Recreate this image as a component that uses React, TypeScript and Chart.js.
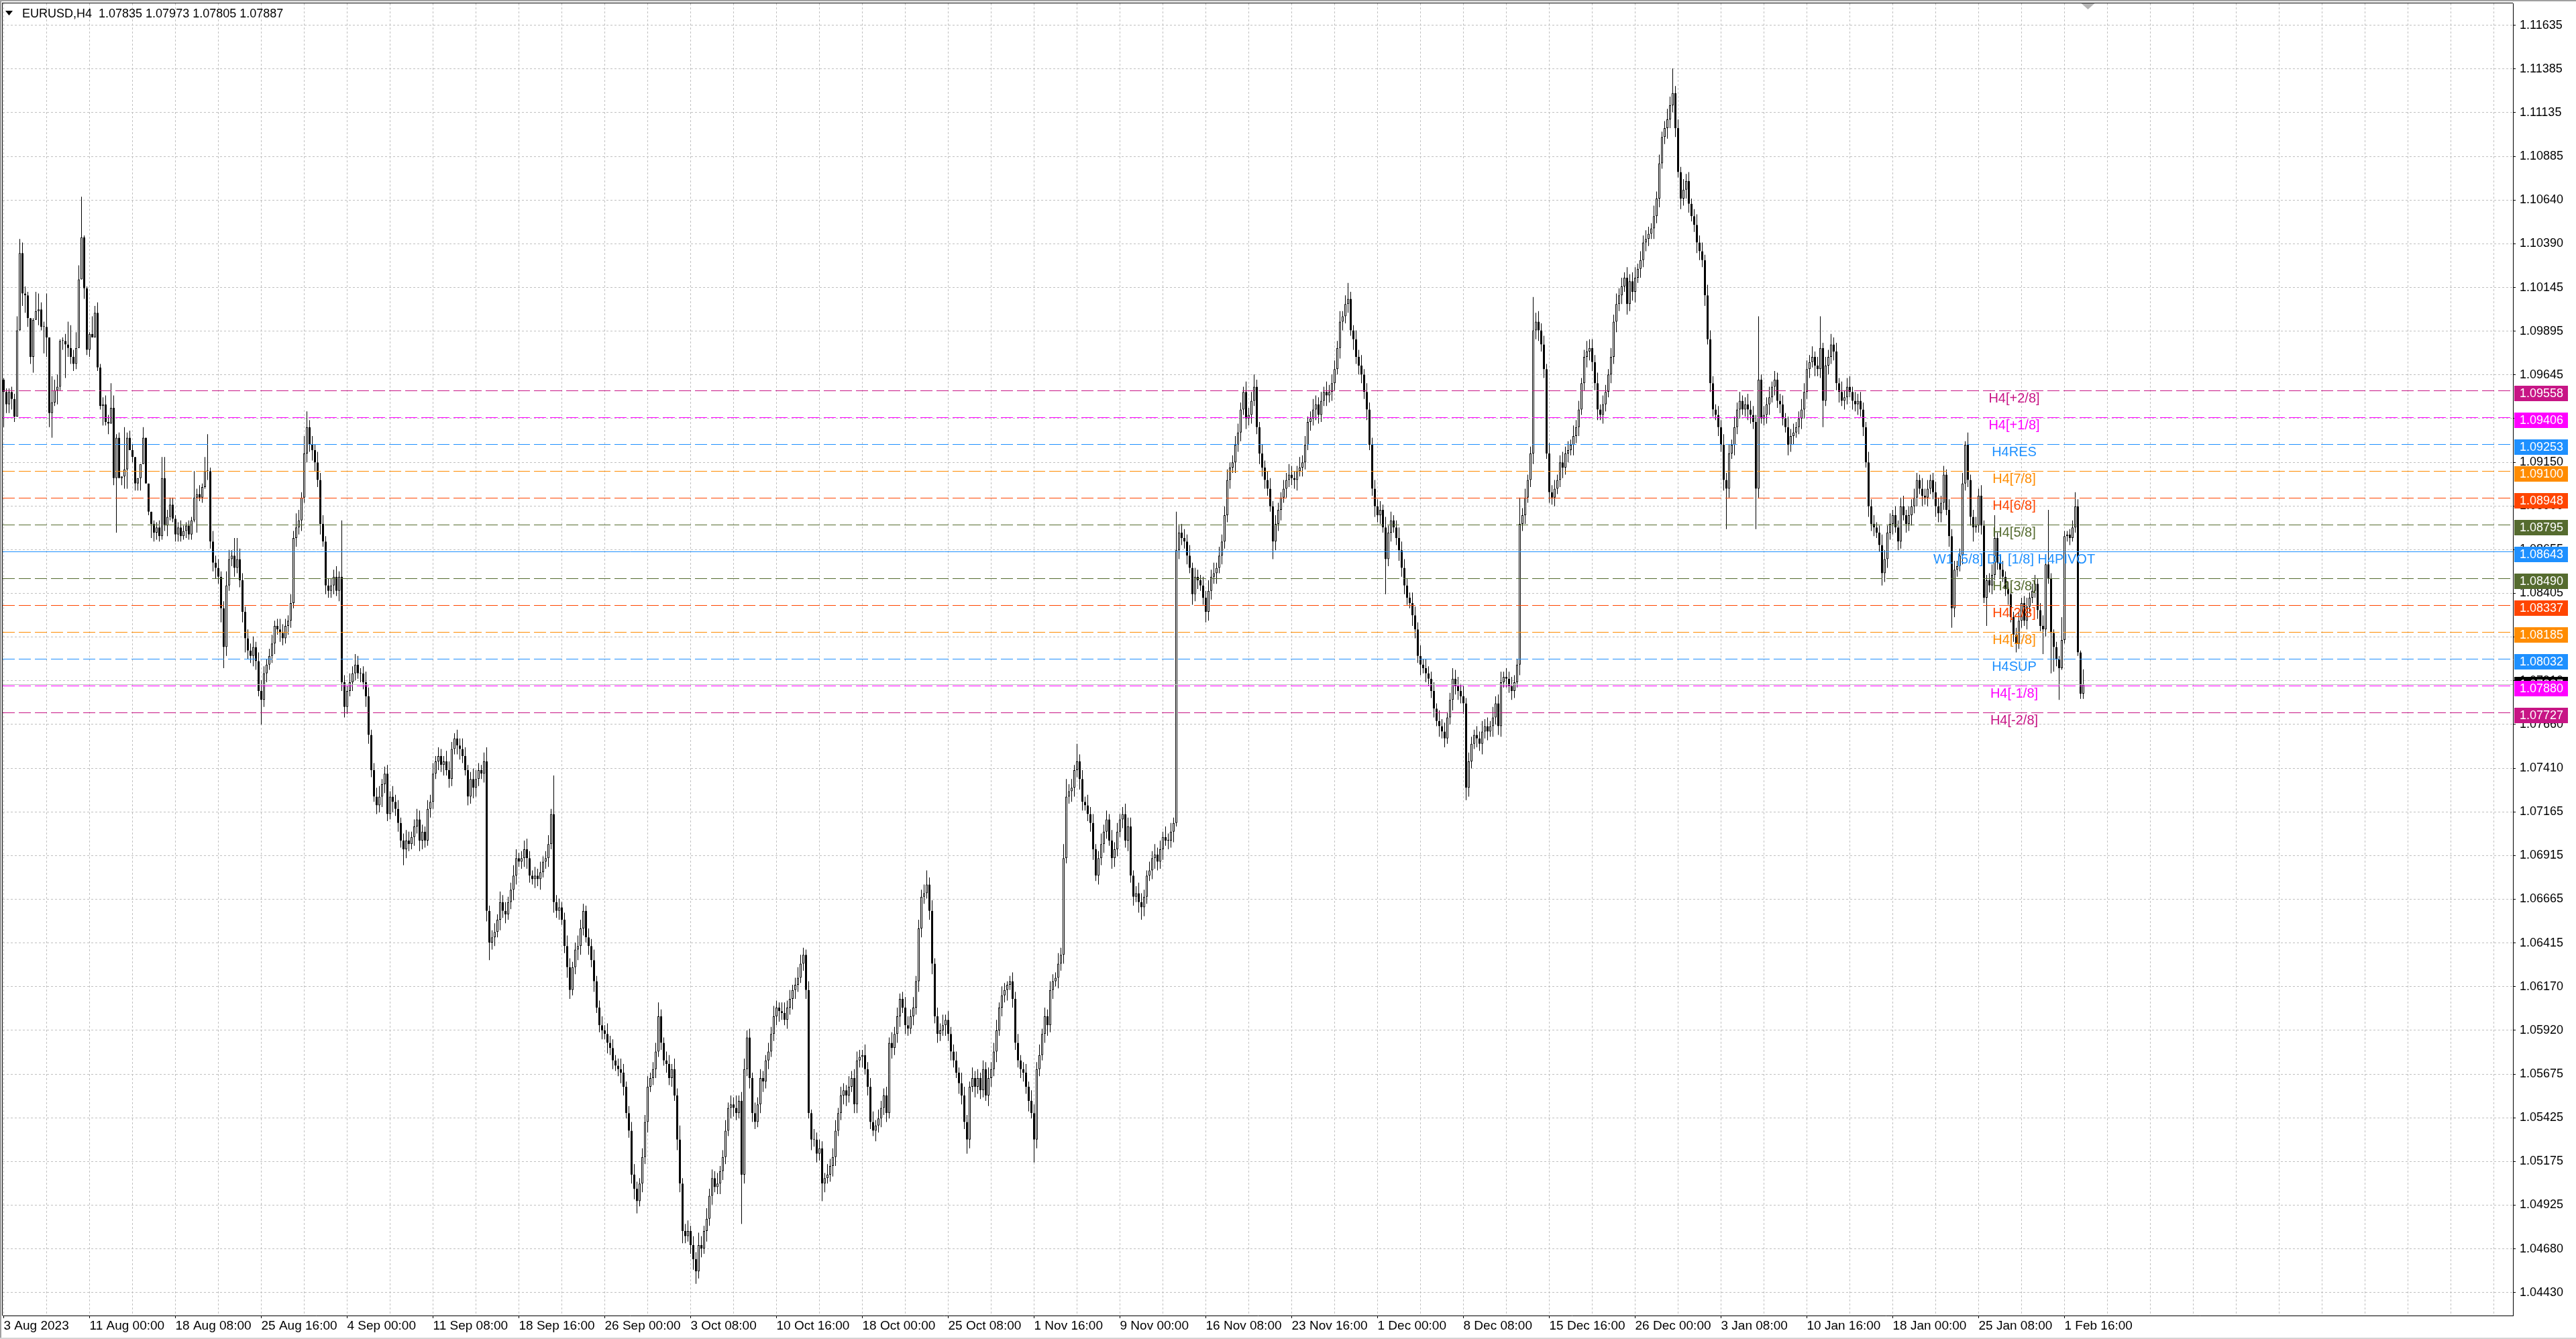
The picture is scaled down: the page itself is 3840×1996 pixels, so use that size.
import React, { useEffect, useRef } from "react";
import { Chart, registerables } from "chart.js";

Chart.register(...registerables);

const WIDTH = 3840;
const HEIGHT = 1996;

const symbolTitle = "EURUSD,H4";

// H4 bars, prices in pips above 1.0000 (945 -> 1.0945). Every bar opens at the previous close.
const firstOpen = 962;

const augClose = [
  955, 948, 955, 951, 941, 990, 1034, 1011, 1010, 997,
  975, 996, 1001, 1002, 992, 992, 986, 943, 949, 956,
  958, 984, 984, 982, 980, 975, 971, 980, 1019, 1043,
  1014, 979, 988, 986, 1000, 969, 947, 948, 938, 937,
  946, 906, 929, 906, 907, 911, 929, 922, 918, 903,
  906, 914, 929, 903, 887, 880, 875, 878, 873, 906,
  879, 884, 891, 883, 874, 878, 873, 876, 879, 874,
  882, 895, 897, 895, 901, 910, 910, 870, 858, 855,
  850, 832, 810, 845, 860, 862,
  855, 860, 848, 830, 815, 808,
  805, 810, 802, 785, 780, 795,
  800, 805, 812, 822, 820, 818,
  815, 822, 825, 835, 872, 878,
  882, 895, 920, 935, 925, 922,
  915, 905, 880, 870, 845, 842,
];
const augUp = [
  1, 2, 2, 3, 3, 8, 8, 6, 4, 2, 0, 1, 11, 9, 4, 3, 19, 0, 15, 6,
  7, 1, 2, 4, 13, 13, 4, 9, 8, 23, 1, 1, 1, 10, 4, 6, 2, 4, 5, 4,
  14, 7, 2, 3, 0, 24, 3, 4, 3, 0, 0, 0, 6, 0, 0, 0, 2, 3, 4, 12,
  12, 4, 4, 4, 2, 3, 4, 3, 2, 3, 2, 15, 3, 5, 2, 8, 21, 2,
  6, 4, 5, 3, 4, 8, 5, 3, 10, 12, 6, 4, 3, 5, 4, 6, 3, 5, 6, 4,
  3, 4, 5, 3, 4, 6, 5, 4, 3, 5, 4, 8, 6, 3, 10, 9, 4, 5, 3, 6,
  4, 5, 3, 4,
];
const augDown = [
  20, 5, 5, 6, 3, 0, 0, 7, 10, 5, 4, 9, 0, 8, 2, 15, 11, 8, 14, 2,
  8, 2, 5, 19, 5, 4, 4, 3, 0, 0, 6, 3, 4, 0, 0, 2, 2, 11, 2, 6,
  0, 4, 31, 0, 4, 7, 11, 0, 3, 4, 4, 7, 0, 0, 2, 8, 5, 4, 3, 2,
  3, 6, 2, 2, 4, 4, 3, 2, 4, 3, 3, 1, 20, 2, 3, 1, 5, 4,
  5, 6, 4, 8, 12, 5, 3, 4, 5, 3, 4, 6, 8, 5, 4, 6, 5, 3, 14, 4,
  5, 3, 4, 6, 3, 5, 4, 3, 5, 4, 3, 5, 4, 6, 3, 5, 4, 6, 5, 4,
  6, 3, 5, 4,
];

const sepClose = [
  845, 850, 842, 850, 790, 776,
  785, 790, 795, 800, 795, 795,
  790, 782, 760, 740, 725, 720,
  725, 732, 738, 715, 725, 722,
  718, 710, 700, 695, 700, 698,
  702, 708, 712, 700, 705, 700,
  718, 722, 738, 745, 748, 743,
  745, 740, 735, 752, 758, 754,
  752, 748, 740, 725, 735, 730,
  735, 740, 738, 745, 660, 642,
  645, 648, 655, 665, 660, 658,
  665, 672, 680, 690, 688, 690,
  695, 690, 680, 678, 680, 678,
  682, 688, 690, 698, 715, 665,
  660, 662, 655, 640, 628, 615,
  628, 638, 640, 650, 660, 645,
  640, 632, 620, 605, 595, 592,
  590, 585, 582, 575, 572, 570,
  568, 560, 545, 535, 510, 502,
  495, 505, 520, 540, 560, 565,
  570, 580, 600, 585, 575, 573,
];
const sepUp = [
  4, 4, 6, 3, 32, 4, 3, 5, 4, 6, 5, 3, 4, 6, 5, 3, 4, 5, 6, 3,
  4, 5, 3, 6, 4, 5, 3, 4, 6, 5, 3, 4, 6, 5, 4, 3, 5, 4, 6, 3,
  5, 4, 3, 6, 5, 4, 3, 5, 4, 6, 5, 3, 4, 6, 5, 4, 3, 5, 8, 3,
  4, 5, 3, 6, 4, 5, 3, 4, 6, 5, 3, 4, 5, 6, 4, 3, 5, 4, 6, 3,
  4, 5, 3, 22, 4, 5, 3, 4, 6, 5, 3, 4, 6, 5, 4, 3, 5, 4, 6, 3,
  4, 5, 3, 6, 4, 5, 3, 4, 6, 5, 3, 4, 5, 6, 4, 3, 5, 4, 6, 3,
  4, 5, 8, 4, 3, 5,
];
const sepDown = [
  4, 5, 3, 6, 5, 6, 4, 3, 5, 4, 3, 5, 4, 6, 5, 4, 3, 5, 4, 6,
  5, 4, 3, 6, 4, 5, 4, 9, 5, 4, 3, 5, 4, 6, 5, 4, 3, 5, 4, 3,
  5, 4, 6, 3, 5, 4, 3, 5, 6, 4, 3, 5, 4, 6, 5, 4, 3, 5, 6, 10,
  4, 5, 3, 6, 4, 5, 3, 4, 6, 5, 3, 4, 5, 6, 4, 3, 5, 4, 6, 3,
  4, 5, 3, 6, 4, 5, 3, 4, 6, 5, 3, 4, 6, 5, 4, 3, 5, 4, 6, 3,
  4, 5, 3, 6, 4, 5, 3, 4, 6, 5, 3, 4, 5, 6, 7, 3, 5, 4, 6, 3,
  4, 5, 3, 4, 3, 5,
];

const octClose = [
  565, 570, 555, 530, 505, 478,
  475, 478, 470, 462, 455, 470,
  468, 478, 485, 498, 508, 503,
  505, 512, 520, 535, 548, 550,
  548, 545, 552, 510, 570, 588,
  565, 545, 540, 550, 565, 563,
  575, 580, 590, 600, 605, 603,
  602, 598, 605, 610, 615, 618,
  622, 630, 635, 615, 545, 530,
  530, 522, 525, 505, 508, 510,
  515, 520, 535, 545, 555, 558,
  555, 560, 565, 550, 575, 577,
  578, 570, 560, 540, 535, 538,
  542, 548, 555, 545, 585, 582,
  590, 600, 610, 605, 595, 593,
  600, 605, 620, 650, 668, 670,
  675, 660, 630, 600, 590, 592,
  595, 598, 590, 580, 575, 568,
  562, 555, 540, 530, 560, 565,
  560, 565, 558, 570, 555, 565,
  570, 580, 592, 605, 612, 615,
  618, 620, 610, 585, 575, 570,
];
const octUp = [
  5, 3, 6, 4, 8, 3, 4, 6, 3, 5, 4, 7, 5, 3, 6, 4, 5, 4, 6, 3,
  4, 6, 3, 5, 4, 7, 3, 5, 6, 4, 5, 3, 6, 4, 5, 4, 3, 5, 4, 6,
  4, 3, 5, 6, 4, 5, 3, 4, 6, 5, 4, 3, 5, 2, 6, 4, 5, 4, 3, 6,
  4, 5, 6, 3, 5, 4, 3, 6, 4, 5, 5, 4, 3, 6, 4, 5, 6, 3, 5, 4,
  4, 5, 3, 6, 4, 5, 3, 4, 6, 5, 4, 6, 3, 5, 4, 5, 8, 4, 6, 3,
  5, 4, 6, 3, 5, 4, 4, 5, 3, 6, 5, 4, 3, 6, 4, 5, 3, 5, 4, 6,
  4, 5, 6, 3, 5, 4, 2, 3, 5, 4, 5, 3,
];
const octDown = [
  4, 5, 3, 6, 5, 7, 4, 3, 5, 6, 7, 4, 5, 3, 6, 4, 5, 3, 4, 6,
  5, 4, 3, 6, 5, 4, 3, 28, 5, 4, 6, 5, 4, 3, 5, 6, 4, 5, 3, 4,
  5, 6, 4, 3, 5, 4, 6, 5, 4, 3, 4, 5, 3, 6, 4, 5, 4, 10, 5, 3,
  4, 6, 5, 3, 4, 5, 6, 4, 3, 5, 5, 4, 6, 3, 5, 4, 3, 6, 4, 5,
  4, 5, 3, 6, 4, 5, 6, 3, 5, 4, 3, 5, 4, 6, 5, 4, 3, 5, 6, 4,
  5, 4, 3, 6, 4, 5, 4, 3, 6, 5, 4, 8, 5, 3, 6, 4, 5, 4, 3, 6,
  5, 4, 6, 3, 5, 4, 6, 3, 5, 4, 4, 5,
];

const novClose = [
  568, 560, 552, 545, 530, 570,
  578, 590, 600, 595, 615, 620,
  622, 630, 635, 690, 725, 728,
  730, 740, 745, 735, 722, 720,
  715, 710, 695, 680, 690, 698,
  705, 712, 700, 690, 695, 705,
  712, 715, 700, 708, 680, 668,
  670, 665, 662, 668, 680, 683,
  690, 692, 688, 695, 702, 700,
  700, 705, 710, 865, 875, 872,
  870, 862, 855, 840, 850, 848,
  845, 838, 830, 842, 850, 852,
  855, 862, 870, 885, 905, 912,
  915, 925, 932, 945, 955, 940,
  942, 950, 958, 935, 920, 912,
  905, 900, 890, 870, 880, 888,
  895, 900, 905, 908, 906, 905,
  910, 912, 915, 925, 938, 940,
  945, 948, 942, 950, 955, 953,
  955, 960, 968, 980, 995, 998,
  1005, 1008, 990, 985, 975, 970,
  965, 955, 945, 925, 900, 890,
];
const novUp = [
  4, 5, 3, 6, 5, 4, 6, 3, 5, 4, 5, 4, 3, 6, 4, 8, 10, 4, 5, 3,
  10, 4, 5, 3, 6, 4, 5, 3, 4, 6, 4, 5, 3, 6, 4, 5, 3, 4, 6, 5,
  5, 3, 4, 6, 5, 4, 3, 5, 4, 6, 4, 5, 3, 6, 4, 5, 3, 22, 4, 5,
  5, 4, 6, 3, 5, 4, 3, 5, 4, 6, 4, 6, 3, 5, 4, 5, 6, 3, 4, 5,
  5, 4, 3, 6, 4, 5, 7, 4, 3, 5, 4, 5, 6, 3, 5, 4, 3, 5, 4, 6,
  5, 4, 3, 6, 4, 5, 3, 4, 6, 5, 4, 5, 3, 6, 4, 5, 5, 4, 6, 3,
  5, 9, 4, 3, 5, 4, 6, 3, 5, 4, 4, 5,
];
const novDown = [
  5, 4, 6, 3, 13, 5, 4, 3, 5, 6, 4, 5, 3, 6, 4, 5, 3, 4, 6, 5,
  4, 6, 5, 3, 4, 5, 6, 3, 5, 4, 5, 4, 3, 6, 5, 4, 3, 5, 4, 6,
  4, 5, 3, 6, 7, 5, 4, 3, 5, 6, 5, 4, 6, 3, 5, 4, 6, 2, 5, 4,
  4, 5, 3, 6, 4, 5, 3, 4, 6, 5, 5, 4, 6, 3, 5, 4, 4, 5, 3, 6,
  4, 5, 3, 6, 4, 5, 3, 4, 6, 5, 5, 4, 3, 10, 5, 4, 6, 3, 5, 4,
  4, 5, 6, 3, 5, 4, 3, 5, 4, 6, 5, 4, 3, 6, 4, 5, 4, 3, 6, 5,
  4, 5, 3, 6, 4, 5, 5, 4, 6, 3, 4, 6,
];

const decClose = [
  885, 888, 878, 860, 875, 882,
  878, 872, 865, 855, 845, 838,
  835, 828, 820, 805, 800, 798,
  795, 792, 785, 775, 768, 765,
  762, 758, 770, 780, 792, 788,
  785, 782, 778, 730, 745, 755,
  760, 758, 755, 762, 765, 762,
  765, 770, 778, 765, 790, 793,
  792, 788, 785, 790, 800, 880,
  885, 895, 905, 920, 990, 995,
  990, 982, 968, 920, 898, 895,
  900, 905, 915, 912, 920, 922,
  925, 930, 935, 945, 960, 975,
  978, 980, 972, 960, 945, 942,
  948, 955, 965, 975, 995, 1005,
  1010, 1015, 1020, 1005, 1018, 1012,
  1020, 1025, 1030, 1040, 1042, 1045,
  1048, 1055, 1065, 1085, 1100, 1105,
  1110, 1118, 1125, 1105, 1080, 1065,
  1070, 1075, 1062, 1055, 1050, 1040,
];
const decUp = [
  4, 5, 3, 6, 4, 5, 3, 4, 6, 5, 5, 4, 3, 6, 5, 4, 6, 3, 5, 4,
  4, 5, 3, 6, 4, 5, 3, 4, 6, 5, 5, 4, 6, 3, 5, 4, 3, 5, 4, 6,
  4, 5, 3, 6, 4, 5, 6, 3, 5, 4, 5, 4, 3, 15, 4, 5, 3, 4, 19, 5,
  6, 4, 5, 3, 6, 4, 5, 3, 4, 6, 4, 5, 3, 6, 4, 5, 3, 4, 6, 5,
  5, 4, 6, 3, 5, 4, 3, 5, 4, 6, 4, 5, 3, 6, 4, 5, 6, 3, 5, 4,
  5, 4, 3, 6, 4, 5, 3, 4, 6, 5, 14, 4, 5, 3, 6, 4, 5, 3, 4, 6,
];
const decDown = [
  4, 5, 3, 20, 4, 5, 3, 4, 6, 5, 5, 4, 3, 6, 5, 4, 6, 3, 5, 4,
  4, 5, 3, 6, 4, 5, 3, 4, 6, 5, 5, 4, 6, 7, 5, 4, 3, 5, 4, 6,
  4, 5, 3, 6, 4, 5, 6, 3, 5, 4, 5, 4, 3, 6, 4, 5, 3, 4, 6, 5,
  6, 4, 5, 3, 6, 4, 5, 3, 4, 6, 4, 5, 3, 6, 4, 5, 3, 4, 6, 5,
  5, 4, 6, 3, 5, 4, 3, 5, 4, 6, 4, 5, 3, 6, 4, 5, 6, 3, 5, 4,
  5, 4, 3, 6, 4, 5, 3, 4, 6, 5, 4, 5, 3, 6, 4, 5, 5, 3, 4, 6,
];

const janClose = [
  1035, 1030, 1010, 985, 960, 945,
  942, 935, 925, 905, 900, 920,
  925, 935, 945, 950, 945, 948,
  945, 942, 938, 900, 962, 940,
  942, 948, 952, 958, 962, 950,
  948, 940, 935, 925, 930, 932,
  935, 940, 945, 955, 968, 972,
  975, 970, 968, 980, 950, 970,
  975, 982, 978, 960, 955, 950,
  952, 958, 955, 950, 948, 950,
  945, 935, 915, 890, 880, 878,
  875, 868, 852, 860, 875, 880,
  885, 878, 870, 890, 885, 880,
  885, 890, 895, 905, 900, 896,
  895, 900, 905, 898, 890, 886,
  892, 908, 888, 873, 832, 854,
  856, 862, 903, 925, 905, 884,
  878, 879, 896, 879, 838, 848,
  845, 851, 872, 858, 854, 850,
  843, 840, 827, 817, 812, 825,
  835, 825, 833, 838, 842, 846,
  831, 822, 820, 857, 849, 818,
];
const janUp = [
  4, 5, 3, 6, 5, 4, 3, 5, 4, 6, 4, 5, 3, 6, 4, 5, 3, 4, 6, 5,
  5, 4, 36, 3, 5, 4, 6, 3, 5, 4, 4, 5, 3, 6, 4, 5, 3, 4, 6, 5,
  5, 4, 6, 3, 5, 18, 3, 5, 4, 6, 4, 5, 3, 6, 4, 5, 6, 3, 5, 4,
  5, 4, 3, 6, 4, 5, 3, 4, 6, 5, 4, 6, 3, 5, 4, 5, 6, 3, 5, 4,
  5, 4, 3, 6, 4, 5, 3, 4, 6, 5, 4, 5, 3, 6, 4, 5, 3, 4, 6, 2,
  7, 3, 4, 5, 4, 6, 3, 3, 4, 6, 13, 3, 4, 5, 3, 4, 6, 3, 4, 5,
  3, 4, 5, 3, 4, 5, 3, 4, 6, 1, 31, 3,
];
const janDown = [
  5, 4, 6, 3, 5, 4, 3, 5, 4, 6, 23, 5, 3, 6, 4, 5, 3, 4, 6, 5,
  4, 23, 5, 3, 4, 5, 6, 3, 5, 4, 5, 4, 3, 6, 4, 5, 3, 4, 6, 5,
  4, 5, 3, 6, 4, 5, 15, 3, 5, 4, 5, 4, 6, 3, 5, 4, 3, 5, 4, 6,
  4, 5, 3, 6, 4, 5, 3, 4, 7, 5, 5, 4, 6, 3, 5, 4, 3, 5, 4, 6,
  4, 5, 3, 6, 4, 5, 3, 4, 6, 5, 5, 4, 3, 6, 11, 5, 4, 3, 5, 4,
  4, 5, 8, 3, 4, 5, 3, 16, 4, 5, 3, 4, 5, 3, 4, 6, 3, 4, 5, 3,
  4, 3, 5, 4, 3, 4, 5, 3, 14, 4, 3, 23,
];

const febClose = [810, 803, 798, 814, 873, 874, 872, 878, 890, 807, 783.5, 788.7];
const febUp = [2, 3, 2, 13, 3, 2, 3, 4, 8, 4, 1, 8.6];
const febDown = [14, 4, 18, 1, 2, 3, 4, 2, 3, 2, 3, 3.0];

// Time axis labels, one every 32 bars starting at bar 0.
const timeLabels = [
  "3 Aug 2023", "11 Aug 00:00", "18 Aug 08:00", "25 Aug 16:00", "4 Sep 00:00",
  "11 Sep 08:00", "18 Sep 16:00", "26 Sep 00:00", "3 Oct 08:00", "10 Oct 16:00",
  "18 Oct 00:00", "25 Oct 08:00", "1 Nov 16:00", "9 Nov 00:00", "16 Nov 08:00",
  "23 Nov 16:00", "1 Dec 00:00", "8 Dec 08:00", "15 Dec 16:00", "26 Dec 00:00",
  "3 Jan 08:00", "10 Jan 16:00", "18 Jan 00:00", "25 Jan 08:00", "1 Feb 16:00",
];

// Price scale labels, top to bottom.
const priceTickLabels = [
  "1.11635", "1.11385", "1.11135", "1.10885", "1.10640", "1.10390", "1.10145", "1.09895",
  "1.09645", "1.09400", "1.09150", "1.08900", "1.08655", "1.08405", "1.08160", "1.07910",
  "1.07660", "1.07410", "1.07165", "1.06915", "1.06665", "1.06415", "1.06170", "1.05920",
  "1.05675", "1.05425", "1.05175", "1.04925", "1.04680", "1.04430",
];

// Murrey math levels.
const levelPrices = [
  1.09558, 1.09406, 1.09253, 1.091, 1.08948, 1.08795, 1.08643,
  1.0849, 1.08337, 1.08185, 1.08032, 1.0788, 1.07727,
];
const levelNames = [
  "H4[+2/8]", "H4[+1/8]", "H4RES", "H4[7/8]", "H4[6/8]", "H4[5/8]",
  "W1 [5/8] D1 [1/8] H4PIVOT", "H4[3/8]", "H4[2/8]", "H4[1/8]", "H4SUP",
  "H4[-1/8]", "H4[-2/8]",
];
const levelColors = [
  "#C71585", "#FF00FF", "#1E90FF", "#FF8C00", "#FF4500", "#556B2F",
  "#1E90FF", "#556B2F", "#FF4500", "#FF8C00", "#1E90FF", "#FF00FF", "#C71585",
];
const levelSolid = [false, false, false, false, false, false, true, false, false, false, false, false, false];

const LEVEL_LABEL_BAR = 749.25;
const FONT = '"Liberation Sans", Arial, sans-serif';

const closes = [...augClose, ...sepClose, ...octClose, ...novClose, ...decClose, ...janClose, ...febClose];
const upWicks = [...augUp, ...sepUp, ...octUp, ...novUp, ...decUp, ...janUp, ...febUp];
const downWicks = [...augDown, ...sepDown, ...octDown, ...novDown, ...decDown, ...janDown, ...febDown];

const toPrice = (pips: number) => 1 + pips / 10000;

type Candle = { o: number; h: number; l: number; c: number };

const candles: Candle[] = closes.map((c, i) => {
  const o = i === 0 ? firstOpen : closes[i - 1];
  return {
    o: toPrice(o),
    c: toPrice(c),
    h: toPrice(Math.max(o, c) + (upWicks[i] ?? 0)),
    l: toPrice(Math.min(o, c) - (downWicks[i] ?? 0)),
  };
});

const fmt = (v: number) => v.toFixed(5);

const overlayPlugin = {
  id: "terminalOverlay",
  beforeDraw(chart: any) {
    const ctx = chart.ctx as CanvasRenderingContext2D;
    ctx.save();
    ctx.fillStyle = "#ffffff";
    ctx.fillRect(0, 0, chart.width, chart.height);
    ctx.restore();
  },
  afterDatasetsDraw(chart: any) {
    const ctx = chart.ctx as CanvasRenderingContext2D;
    const area = chart.chartArea;
    const xs = chart.scales.x;
    const ys = chart.scales.y;
    const last = candles[candles.length - 1];
    ctx.save();
    ctx.beginPath();
    ctx.rect(area.left, area.top, area.right - area.left, area.bottom - area.top);
    ctx.clip();

    // bid line
    const bidY = Math.round(ys.getPixelForValue(last.c)) + 0.5;
    ctx.lineWidth = 1;
    ctx.strokeStyle = "#c0c0c0";
    ctx.beginPath();
    ctx.moveTo(area.left, bidY);
    ctx.lineTo(area.right, bidY);
    ctx.stroke();

    // level lines
    levelPrices.forEach((p, i) => {
      const ly = Math.round(ys.getPixelForValue(p)) + 0.5;
      ctx.strokeStyle = levelColors[i];
      ctx.setLineDash(levelSolid[i] ? [] : [18, 6]);
      ctx.beginPath();
      ctx.moveTo(area.left, ly);
      ctx.lineTo(area.right, ly);
      ctx.stroke();
    });
    ctx.setLineDash([]);

    // level captions
    ctx.font = `20px ${FONT}`;
    ctx.textAlign = "center";
    ctx.textBaseline = "top";
    const lx = xs.getPixelForValue(LEVEL_LABEL_BAR);
    levelPrices.forEach((p, i) => {
      const ly = Math.round(ys.getPixelForValue(p));
      ctx.fillStyle = levelColors[i];
      ctx.fillText(levelNames[i], lx, ly + 2);
    });
    ctx.restore();
  },
  afterDraw(chart: any) {
    const ctx = chart.ctx as CanvasRenderingContext2D;
    const area = chart.chartArea;
    const ys = chart.scales.y;
    const last = candles[candles.length - 1];
    const prev = candles[candles.length - 2];
    ctx.save();

    // price boxes on the axis
    const boxLeft = area.right + 2;
    const boxW = 80;
    const boxH = 23;
    ctx.font = `18px ${FONT}`;
    ctx.textAlign = "left";
    ctx.textBaseline = "middle";

    const bidY = ys.getPixelForValue(last.c);
    ctx.fillStyle = "#000000";
    ctx.fillRect(boxLeft, Math.round(bidY - boxH / 2), boxW, boxH);
    ctx.fillStyle = "#ffffff";
    ctx.fillText(fmt(last.c), area.right + 10, Math.round(bidY) + 1);

    levelPrices.forEach((p, i) => {
      const cy = Math.round(ys.getPixelForValue(p)) + 4.5;
      ctx.fillStyle = levelColors[i];
      ctx.fillRect(boxLeft, Math.round(cy - boxH / 2), boxW, boxH);
      ctx.fillStyle = "#ffffff";
      ctx.fillText(fmt(p), area.right + 10, cy + 1);
    });

    // chart frame
    ctx.fillStyle = "#000000";
    ctx.fillRect(area.left - 1, area.top - 1, area.right - area.left + 1, 1);
    ctx.fillRect(area.left - 1, area.top - 1, 1, area.bottom - area.top + 1);
    ctx.fillStyle = "#a0a0a0";
    ctx.fillRect(0, 0, chart.width, 2);
    ctx.fillRect(0, 0, 2, chart.height);
    ctx.fillStyle = "#d4d4d4";
    ctx.fillRect(0, chart.height - 2, chart.width, 2);

    // chart shift marker
    const shiftX = chart.scales.x.getPixelForValue(closes.length + 0.75);
    ctx.fillStyle = "#b4b4b4";
    ctx.beginPath();
    ctx.moveTo(shiftX - 10, area.top);
    ctx.lineTo(shiftX + 10, area.top);
    ctx.lineTo(shiftX, area.top + 9);
    ctx.closePath();
    ctx.fill();

    // header
    ctx.fillStyle = "#000000";
    ctx.beginPath();
    ctx.moveTo(8, 16);
    ctx.lineTo(19, 16);
    ctx.lineTo(13.5, 23);
    ctx.closePath();
    ctx.fill();
    ctx.font = `18px ${FONT}`;
    ctx.textBaseline = "middle";
    ctx.fillText(
      `${symbolTitle}  ${fmt(prev.c)} ${fmt(last.h)} ${fmt(last.l)} ${fmt(last.c)}`,
      33,
      21
    );
    ctx.restore();
  },
};

export default function App() {
  const canvasRef = useRef<HTMLCanvasElement | null>(null);

  useEffect(() => {
    const canvas = canvasRef.current;
    if (!canvas) return;

    const wickData = candles.map((k, i) => ({ x: i, y: [k.l, k.h] }));
    const bodyData = candles.map((k, i) => ({ x: i, y: [k.o, k.c] }));
    const bodyFill = candles.map((k) => (k.c >= k.o ? "#ffffff" : "#000000"));

    const yTop = 1.11635;
    const yBottom = 1.0443;
    const step = (yTop - yBottom) / (priceTickLabels.length - 1);

    const chart = new Chart(canvas, {
      type: "bar",
      data: {
        datasets: [
          {
            label: "body",
            data: bodyData as any,
            backgroundColor: bodyFill,
            borderColor: "#000000",
            borderWidth: 1,
            borderSkipped: false,
            barThickness: 3,
            minBarLength: 1,
            grouped: false,
            inflateAmount: 0,
            order: 0,
          } as any,
          {
            label: "wick",
            data: wickData as any,
            backgroundColor: "#000000",
            borderWidth: 0,
            barThickness: 1,
            grouped: false,
            inflateAmount: 0,
            order: 1,
          } as any,
        ],
      },
      options: {
        responsive: false,
        animation: false,
        devicePixelRatio: 1,
        events: [],
        layout: { padding: { left: 4, top: 5, right: 0, bottom: 0 } },
        plugins: { legend: { display: false }, tooltip: { enabled: false } },
        scales: {
          x: {
            type: "linear",
            min: -0.375,
            max: 935.125,
            offset: false,
            afterBuildTicks: (scale: any) => {
              const t = [];
              for (let v = 0; v <= 928; v += 16) t.push({ value: v });
              scale.ticks = t;
            },
            afterFit: (scale: any) => {
              scale.height = 35;
              scale.paddingLeft = 0;
              scale.paddingRight = 0;
              scale.paddingTop = 0;
              scale.paddingBottom = 0;
            },
            grid: {
              offset: false,
              color: "#c0c0c0",
              lineWidth: 1,
              tickLength: 4,
              tickColor: (ctx: any) => {
                const v = ctx.tick ? ctx.tick.value : -1;
                return v % 32 === 0 && timeLabels[v / 32] ? "#000000" : "rgba(0,0,0,0)";
              },
            },
            border: { color: "#000000", width: 1, dash: [3, 3] },
            ticks: {
              autoSkip: false,
              maxRotation: 0,
              minRotation: 0,
              align: "start",
              padding: 0,
              color: "#000000",
              font: { family: FONT, size: 19 },
              callback: (value: any) => {
                const v = Number(value);
                return v % 32 === 0 ? timeLabels[v / 32] ?? "" : "";
              },
            },
          } as any,
          y: {
            type: "linear",
            position: "right",
            min: 1.042994,
            max: 1.117597,
            afterBuildTicks: (scale: any) => {
              scale.ticks = priceTickLabels.map((_, k) => ({ value: yTop - k * step }));
            },
            afterFit: (scale: any) => {
              scale.width = 94;
              scale.paddingTop = 0;
              scale.paddingBottom = 0;
              scale.paddingLeft = 0;
              scale.paddingRight = 0;
            },
            grid: {
              color: "#c0c0c0",
              lineWidth: 1,
              tickLength: 4,
              tickColor: "#000000",
            },
            border: { color: "#000000", width: 1, dash: [3, 3] },
            ticks: {
              autoSkip: false,
              padding: 6,
              color: "#000000",
              font: { family: FONT, size: 18 },
              callback: (_v: any, i: number) => priceTickLabels[i],
            },
          } as any,
        },
      },
      plugins: [overlayPlugin],
    });

    return () => chart.destroy();
  }, []);

  return (
    <div
      style={{
        position: "absolute",
        left: 0,
        top: 0,
        width: WIDTH,
        height: HEIGHT,
        background: "#ffffff",
        overflow: "hidden",
      }}
    >
      <canvas
        ref={canvasRef}
        width={WIDTH}
        height={HEIGHT}
        style={{ display: "block", width: WIDTH, height: HEIGHT }}
      />
    </div>
  );
}
